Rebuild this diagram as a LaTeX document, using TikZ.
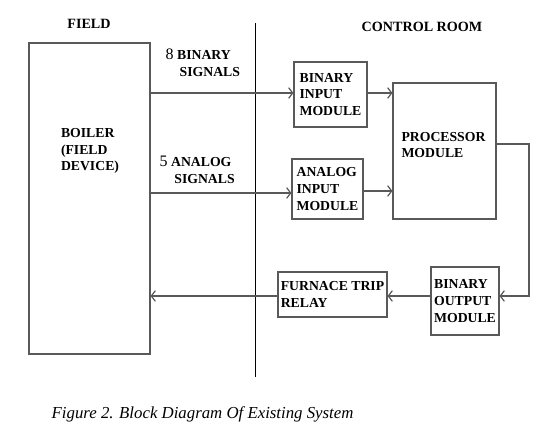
\documentclass[tikz,border=0pt]{standalone}
\usepackage{fontspec}
\setmainfont{Liberation Serif}
\usetikzlibrary{arrows.meta,positioning,calc}

\begin{document}
\begin{tikzpicture}[
  x=0.75pt,y=-0.75pt,
  font=\fontsize{10.3}{12.4}\selectfont\bfseries,
  >={Straight Barb[length=3pt,width=8pt]},
  blk/.style={draw=black!65,line width=0.9pt,inner sep=2pt,align=left},
  sig/.style={draw=black!65,line width=0.9pt,->},
  hdr/.style={font=\fontsize{10.6}{12}\selectfont\bfseries},
]
\useasboundingbox (0,0) rectangle (551,433);
% column headers and divider
\node[hdr] (fieldhdr) at (89,24) {FIELD};
\node[hdr] (roomhdr) at (422,27) {CONTROL ROOM};
\coordinate (divtop) at (255,23);
\coordinate (divbot) at (255,377);
\draw[line width=0.75pt] (divtop) -- (divbot);
% blocks
\node[blk,minimum width=90.75pt,minimum height=233.25pt] (boiler) at (89.5,198.5) {};
\node[align=left] (boilertxt) at (90,151) {BOILER\\(FIELD\\DEVICE)};
\node[blk,minimum width=54.75pt,minimum height=48.75pt] (bim) at (330.5,94.5) {BINARY\\INPUT\\MODULE};
\node[blk,minimum width=53.25pt,minimum height=45pt] (aim) at (327.5,189) {ANALOG\\INPUT\\MODULE};
\node[blk,minimum width=77.25pt,minimum height=102pt] (proc) at (444.5,151) {};
\node[align=left] (proctxt) at (443.5,145) {PROCESSOR\\MODULE};
\node[blk,minimum width=51pt,minimum height=51pt] (bom) at (465,301) {BINARY\\OUTPUT\\MODULE};
\node[blk,minimum width=81.75pt,minimum height=33.75pt] (ftr) at (332.5,294.5) {FURNACE TRIP\\RELAY};
% signal labels
\node[anchor=west,align=left] (binlbl) at (161,63) {{\mdseries\fontsize{12}{12}\selectfont 8} BINARY\\\hspace*{10.5pt}SIGNALS};
\node[anchor=west,align=left] (anlbl) at (155,170) {{\mdseries\fontsize{12}{12}\selectfont 5} ANALOG\\\hspace*{11pt}SIGNALS};
% connections
\coordinate (pout) at (496,144);
\coordinate (corner) at (529,144);
\draw[sig] (boiler.east |- 0,93) -- (bim.west |- 0,93);
\draw[sig] (boiler.east |- 0,193) -- (aim.west |- 0,193);
\draw[sig] (bim.east |- 0,93) -- (proc.west |- 0,93);
\draw[sig] (aim.east |- 0,191) -- (proc.west |- 0,191);
\draw[sig] (pout) -- (corner) -- (corner |- 0,296) -- (bom.east |- 0,296);
\draw[sig] (bom.west |- 0,296) -- (ftr.east |- 0,296);
\draw[sig] (ftr.west |- 0,296) -- (boiler.east |- 0,296);
% caption
\node[anchor=west,font=\fontsize{12.6}{14}\selectfont\itshape] (caption) at (47,414) {Figure 2. Block Diagram Of Existing System};
\end{tikzpicture}
\end{document}
